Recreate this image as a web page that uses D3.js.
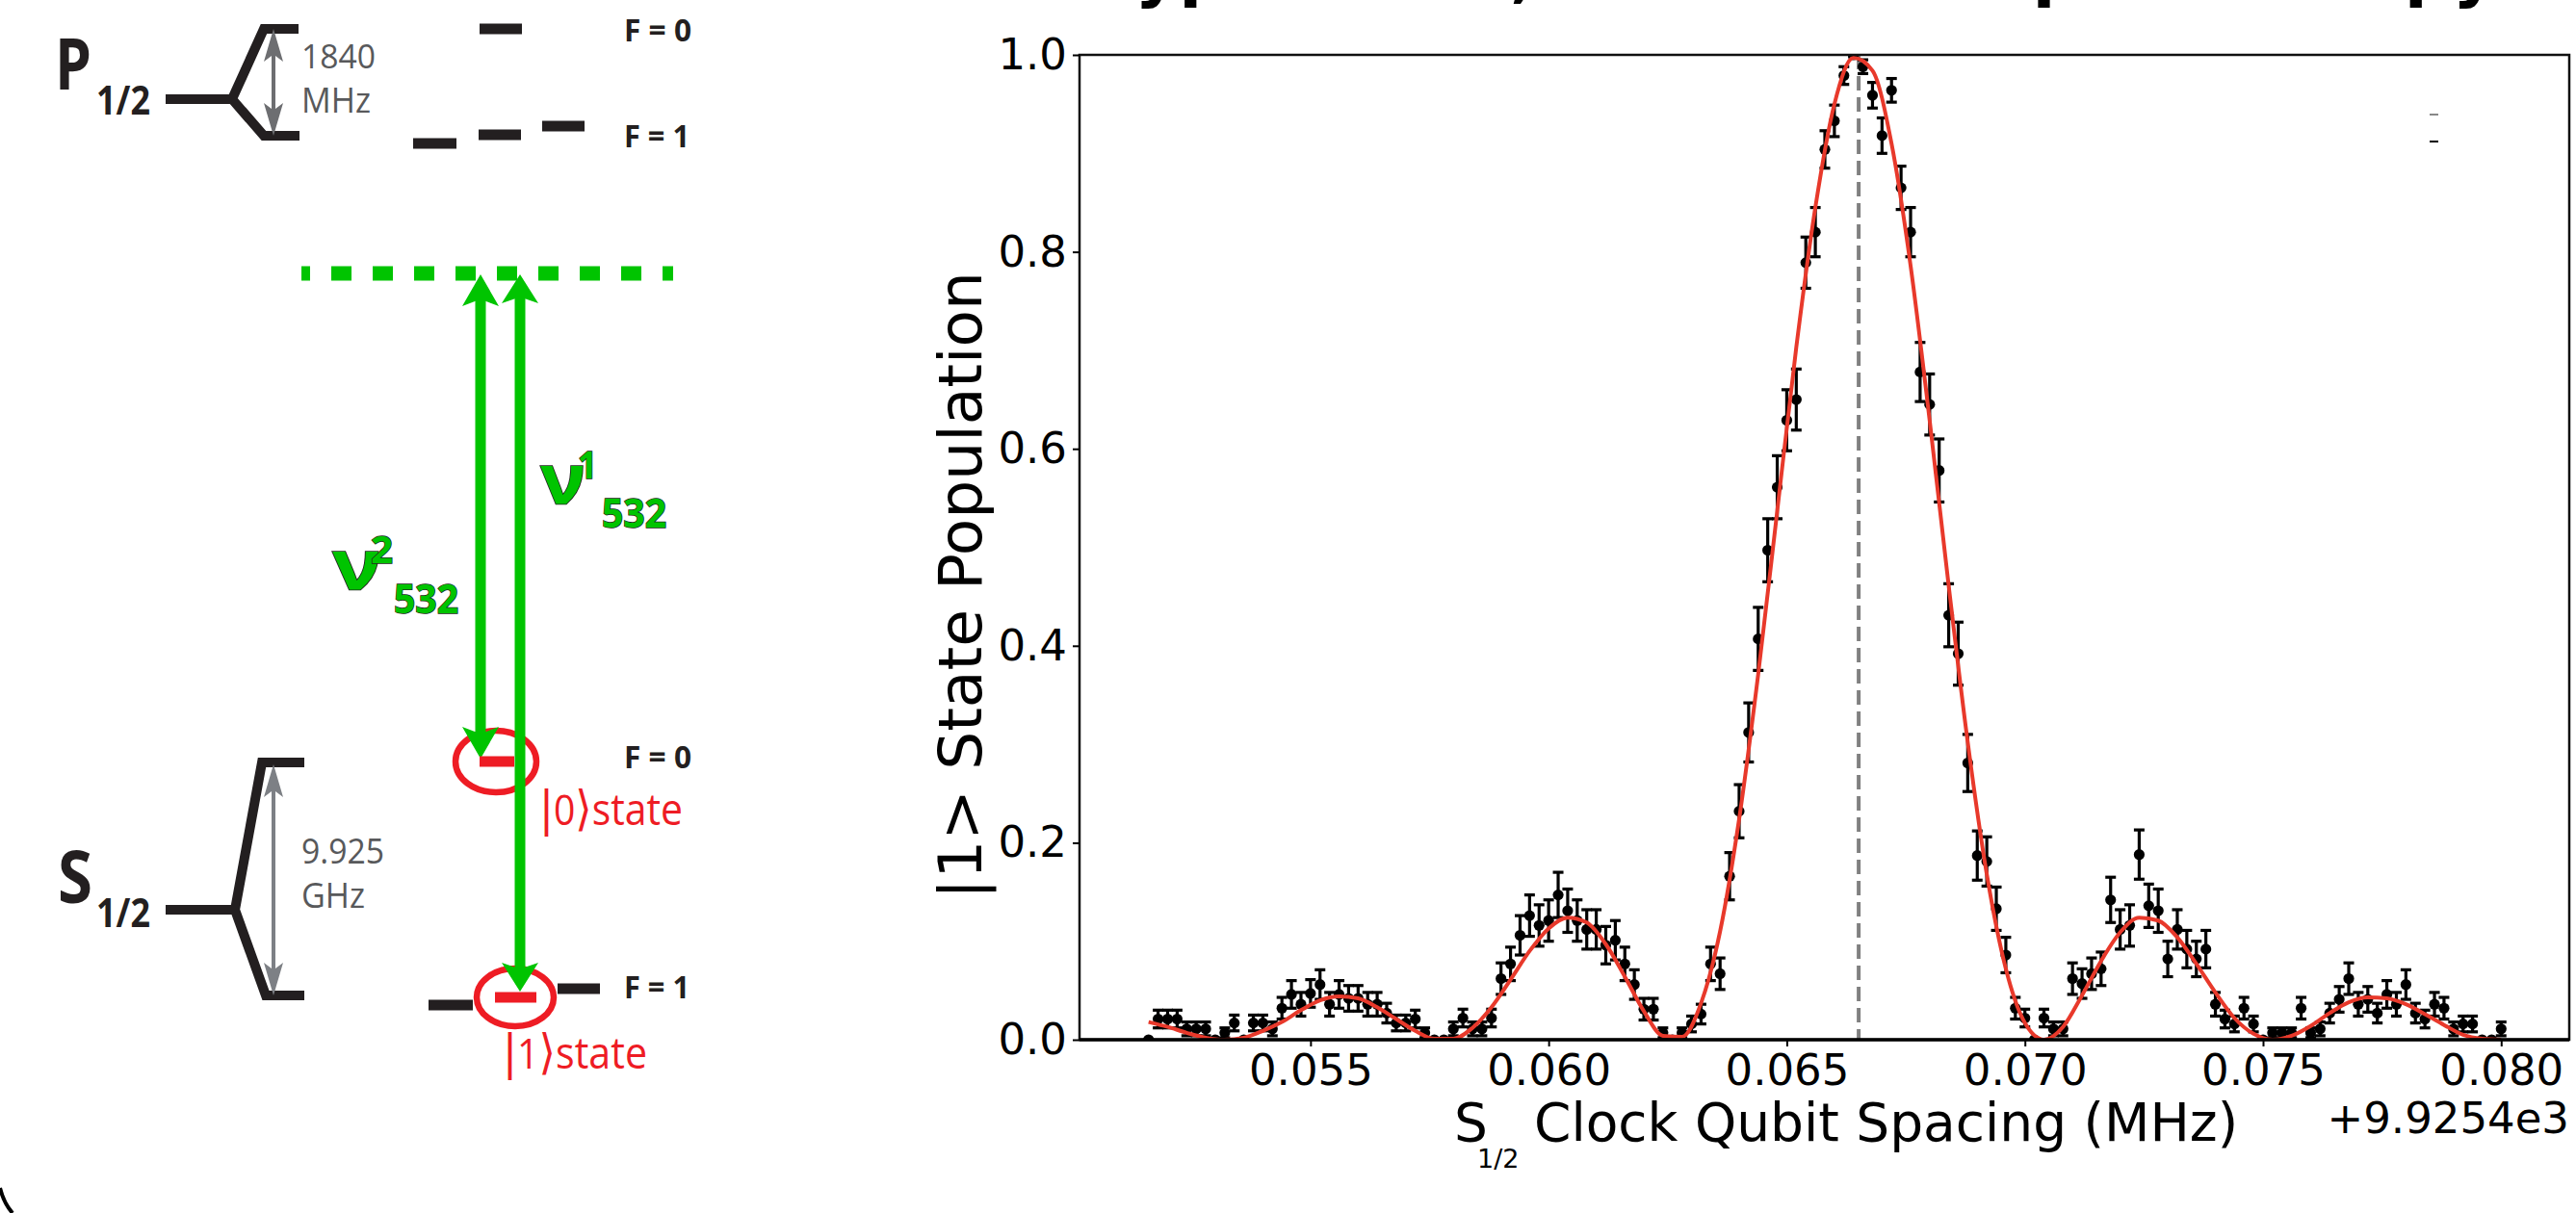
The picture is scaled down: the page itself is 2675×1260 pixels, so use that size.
<!DOCTYPE html>
<html><head><meta charset="utf-8">
<script src="https://cdn.jsdelivr.net/npm/d3@7"></script>
<style>html,body{margin:0;padding:0;background:#fff;} svg{display:block;}</style>
</head><body>
<svg id="c" width="2675" height="1260"></svg>
<script>
// ---------- data ----------
const freqOffsets = [
0.0516,0.0518,0.0520,0.0522,0.0524,0.0526,0.0528,0.0530,0.0532,0.0534,
0.0536,0.0538,0.0540,0.0542,0.0544,0.0546,0.0548,0.0550,0.0552,0.0554,
0.0556,0.0558,0.0560,0.0562,0.0564,0.0566,0.0568,0.0570,0.0572,0.0574,
0.0576,0.0578,0.0580,0.0582,0.0584,0.0586,0.0588,0.0590,0.0592,0.0594,
0.0596,0.0598,0.0600,0.0602,0.0604,0.0606,0.0608,0.0610,0.0612,0.0614,
0.0616,0.0618,0.0620,0.0622,0.0624,0.0626,0.0628,0.0630,0.0632,0.0634,
0.0636,0.0638,0.0640,0.0642,0.0644,0.0646,0.0648,0.0650,0.0652,0.0654,
0.0656,0.0658,0.0660,0.0662,0.0664,0.0666,0.0668,0.0670,0.0672,0.0674,
0.0676,0.0678,0.0680,0.0682,0.0684,0.0686,0.0688,0.0690,0.0692,0.0694,
0.0696,0.0698,0.0700,0.0702,0.0704,0.0706,0.0708,0.0710,0.0712,0.0714,
0.0716,0.0718,0.0720,0.0722,0.0724,0.0726,0.0728,0.0730,0.0732,0.0734,
0.0736,0.0738,0.0740,0.0742,0.0744,0.0746,0.0748,0.0750,0.0752,0.0754,
0.0756,0.0758,0.0760,0.0762,0.0764,0.0766,0.0768,0.0770,0.0772,0.0774,
0.0776,0.0778,0.0780,0.0782,0.0784,0.0786,0.0788,0.0790,0.0792,0.0794,
0.0796,0.0798,0.0800];
const population = [
0,0.021,0.021,0.021,0.011,0.011,0.011,0,0.007,0.017,
0,0.017,0.017,0.011,0.032,0.046,0.036,0.047,0.056,0.036,
0.046,0.042,0.042,0.036,0.036,0.027,0.017,0.017,0.021,0.007,
0,0,0.011,0.022,0.011,0.011,0.022,0.062,0.077,0.106,
0.126,0.116,0.121,0.147,0.131,0.121,0.112,0.112,0.096,0.101,
0.077,0.056,0.031,0.031,0.007,0,0.007,0.016,0.026,0.077,
0.067,0.166,0.232,0.312,0.407,0.497,0.561,0.629,0.650,0.789,
0.820,0.904,0.933,0.979,1.000,0.988,0.959,0.918,0.964,0.865,
0.820,0.678,0.645,0.578,0.431,0.392,0.281,0.187,0.181,0.133,
0.086,0.032,0.022,0,0.022,0.011,0.011,0.062,0.057,0.067,
0.072,0.142,0.112,0.116,0.188,0.136,0.131,0.082,0.112,0.092,
0.082,0.092,0.036,0.021,0.016,0.032,0.016,0,0.007,0.007,
0.007,0.032,0.007,0.011,0.027,0.041,0.062,0.036,0.041,0.027,
0.046,0.036,0.056,0.027,0.021,0.036,0.032,0.011,0.016,0.016,
0,0,0.011];
const populationErr = [
0,0.009,0.009,0.009,0.007,0.007,0.007,0,0.005,0.008,
0,0.008,0.008,0.007,0.011,0.014,0.012,0.014,0.015,0.012,
0.014,0.013,0.013,0.012,0.012,0.010,0.008,0.008,0.009,0.005,
0,0,0.007,0.009,0.007,0.007,0.009,0.016,0.017,0.020,
0.021,0.021,0.021,0.023,0.022,0.021,0.020,0.020,0.019,0.020,
0.017,0.015,0.011,0.011,0.005,0,0.005,0.008,0.010,0.017,
0.016,0.024,0.027,0.030,0.032,0.032,0.032,0.031,0.031,0.026,
0.025,0.019,0.016,0.009,0.002,0.007,0.013,0.018,0.012,0.022,
0.025,0.030,0.031,0.032,0.032,0.032,0.029,0.025,0.025,0.022,
0.018,0.011,0.009,0,0.009,0.007,0.007,0.016,0.015,0.016,
0.017,0.023,0.020,0.021,0.025,0.022,0.022,0.018,0.020,0.019,
0.018,0.019,0.012,0.009,0.008,0.011,0.008,0,0.005,0.005,
0.005,0.011,0.005,0.007,0.010,0.013,0.016,0.012,0.013,0.010,
0.014,0.012,0.015,0.010,0.009,0.012,0.011,0.007,0.008,0.008,
0,0,0.007];
const fitFreqOffsets = [
0.0516,0.0520,0.0524,0.0528,0.0532,0.0536,0.0540,0.0544,0.0548,0.0552,
0.0556,0.0560,0.0564,0.0568,0.0572,0.0576,0.0580,0.0584,0.0588,0.0592,
0.0596,0.0600,0.0604,0.0608,0.0612,0.0616,0.0620,0.0624,0.0628,0.0632,
0.0636,0.0640,0.0644,0.0648,0.0652,0.0656,0.0660,0.0664,0.0668,0.0672,
0.0676,0.0680,0.0684,0.0688,0.0692,0.0696,0.0700,0.0704,0.0708,0.0712,
0.0716,0.0720,0.0724,0.0728,0.0732,0.0736,0.0740,0.0744,0.0748,0.0752,
0.0756,0.0760,0.0764,0.0768,0.0772,0.0776,0.0780,0.0784,0.0788,0.0792,
0.0796,0.0800];
const fitPopulation = [
0.018,0.013,0.007,0.002,0.000,0.002,0.009,0.018,0.030,0.040,
0.044,0.042,0.033,0.021,0.009,0.001,0.001,0.012,0.033,0.061,
0.090,0.113,0.124,0.119,0.097,0.064,0.029,0.004,0.003,0.037,
0.110,0.224,0.371,0.537,0.703,0.845,0.950,0.997,0.984,0.910,
0.786,0.629,0.461,0.302,0.168,0.072,0.017,0.000,0.013,0.045,
0.080,0.109,0.124,0.121,0.104,0.077,0.048,0.022,0.006,0.000,
0.004,0.014,0.027,0.038,0.043,0.042,0.036,0.026,0.015,0.005,
0.001,0.000];
const centerFreqOffset = 0.06651;
const xTickValues = [0.055,0.060,0.065,0.070,0.075,0.080];
const xTickLabels = ["0.055","0.060","0.065","0.070","0.075","0.080"];
const yTickValues = [0,0.2,0.4,0.6,0.8,1.0];
const yTickLabels = ["0.0","0.2","0.4","0.6","0.8","1.0"];
const offsetLabel = "+9.9254e3";
const yAxisTitle = "|1> State Population";
const xAxisTitleMain = "Clock Qubit Spacing (MHz)";

// ---------- setup ----------
const svg = d3.select("#c");
svg.append("rect").attr("width",2675).attr("height",1260).attr("fill","#fff");
const BLK = "#231f20", GRN = "#00c400", RED = "#ee1c24";
const diagFont = "'Open Sans', 'Liberation Sans', sans-serif";
const chartFont = "'DejaVu Sans', sans-serif";

// ---------- chart ----------
const L = 1121, R = 2668, T = 57, B = 1080;
const x = d3.scaleLinear().domain([0.05015, 0.08143]).range([L, R]);
const y = d3.scaleLinear().domain([0, 1]).range([B, T]);

svg.append("defs").append("clipPath").attr("id","plotclip")
  .append("rect").attr("x",L).attr("y",T).attr("width",R-L).attr("height",B-T);

const plot = svg.append("g").attr("clip-path","url(#plotclip)");

// dashed center line
plot.append("line")
  .attr("x1",x(centerFreqOffset)).attr("x2",x(centerFreqOffset))
  .attr("y1",T).attr("y2",B)
  .attr("stroke","#808080").attr("stroke-width",4).attr("stroke-dasharray","15,7");

const pts = freqOffsets.map((f,i)=>({f, p:population[i], e:populationErr[i]}));
const eb = plot.append("g").attr("stroke","#000").attr("stroke-width",3.2);
pts.forEach(d=>{
  const cx = x(d.f), y0 = y(d.p - d.e), y1 = y(d.p + d.e);
  eb.append("line").attr("x1",cx).attr("x2",cx).attr("y1",y0).attr("y2",y1);
  eb.append("line").attr("x1",cx-5.5).attr("x2",cx+5.5).attr("y1",y0).attr("y2",y0);
  eb.append("line").attr("x1",cx-5.5).attr("x2",cx+5.5).attr("y1",y1).attr("y2",y1);
});
plot.append("g").selectAll("circle").data(pts).join("circle")
  .attr("cx",d=>x(d.f)).attr("cy",d=>y(d.p)).attr("r",5.6).attr("fill","#000");

const fitLine = d3.line().x(d=>x(d[0])).y(d=>y(d[1])).curve(d3.curveMonotoneX);
plot.append("path").datum(fitFreqOffsets.map((f,i)=>[f, fitPopulation[i]]))
  .attr("d",fitLine).attr("fill","none").attr("stroke","#e8392b").attr("stroke-width",4);

// spines
svg.append("rect").attr("x",L).attr("y",T).attr("width",R-L).attr("height",B-T)
  .attr("fill","none").attr("stroke","#111").attr("stroke-width",2.5);
svg.append("line").attr("x1",L).attr("x2",R).attr("y1",B).attr("y2",B)
  .attr("stroke","#000").attr("stroke-width",3.5);

// axes
const xa = svg.append("g").attr("transform",`translate(0,${B})`)
  .call(d3.axisBottom(x).tickValues(xTickValues).tickFormat((d,i)=>xTickLabels[i])
        .tickSize(7).tickPadding(8).tickSizeOuter(0));
const ya = svg.append("g").attr("transform",`translate(${L},0)`)
  .call(d3.axisLeft(y).tickValues(yTickValues).tickFormat((d,i)=>yTickLabels[i])
        .tickSize(7).tickPadding(6).tickSizeOuter(0));
[xa,ya].forEach(a=>{
  a.select(".domain").remove();
  a.selectAll("line").attr("stroke","#000").attr("stroke-width",2);
  a.selectAll("text").attr("font-family",chartFont).attr("font-size",45).attr("fill","#000");
});

// offset text
svg.append("text").attr("x",R).attr("y",1177).attr("text-anchor","end")
  .attr("font-family",chartFont).attr("font-size",45).text(offsetLabel);

// x axis title
const xt = svg.append("g").attr("font-family",chartFont).attr("fill","#000");
xt.append("text").attr("x",1510).attr("y",1185).attr("font-size",55).text("S");
xt.append("text").attr("x",1534).attr("y",1213).attr("font-size",27).text("1/2");
xt.append("text").attr("x",1593).attr("y",1185).attr("font-size",55).text(xAxisTitleMain);

// y axis title
svg.append("text").attr("transform","translate(1019,608) rotate(-90)")
  .attr("text-anchor","middle").attr("font-family",chartFont).attr("font-size",63)
  .text(yAxisTitle);

// tiny legend handles
svg.append("line").attr("x1",2523).attr("x2",2532).attr("y1",119).attr("y2",119).attr("stroke","#888").attr("stroke-width",2);
svg.append("line").attr("x1",2523).attr("x2",2532).attr("y1",147).attr("y2",147).attr("stroke","#000").attr("stroke-width",2);

// title, cut off by the top edge as in the reference (only descenders visible)
const tt = svg.append("g").attr("font-family",chartFont).attr("font-weight","bold").attr("font-size",70).attr("fill","#000");
tt.append("text").attr("x",1120).attr("y",-6).text("Hyperfine");
tt.append("text").attr("x",1568).attr("y",-6).text(",");
tt.append("text").attr("x",1640).attr("y",-6).text("Microwave");
tt.append("text").attr("x",2060).attr("y",-6).text("Spectroscopy");

// corner arc
svg.append("path").attr("d","M0,1234 Q4,1250 13,1260").attr("fill","none").attr("stroke","#000").attr("stroke-width",4);

// ---------- level diagram ----------
const dg = svg.append("g");
dg.append("path").attr("d","M172,103 L241,103 M310,30 L274,30 L241,103 L274,141 L311,141")
  .attr("fill","none").attr("stroke",BLK).attr("stroke-width",10).attr("stroke-linejoin","miter");
dg.append("path").attr("d","M172,945 L244,945 M316,792 L272,792 L244,945 L276,1034 L316,1034")
  .attr("fill","none").attr("stroke",BLK).attr("stroke-width",10).attr("stroke-linejoin","miter");

function dblArrow(g, xx, y1, y2, color, w, hw, hl){
  g.append("line").attr("x1",xx).attr("x2",xx).attr("y1",y1+hl*0.7).attr("y2",y2-hl*0.7)
    .attr("stroke",color).attr("stroke-width",w);
  g.append("path").attr("d",`M${xx},${y1} L${xx-hw},${y1+hl} L${xx},${y1+hl*0.78} L${xx+hw},${y1+hl} Z`).attr("fill",color);
  g.append("path").attr("d",`M${xx},${y2} L${xx-hw},${y2-hl} L${xx},${y2-hl*0.78} L${xx+hw},${y2-hl} Z`).attr("fill",color);
}
dblArrow(dg, 284, 30, 141, "#6d6e71", 4, 10, 34);
dblArrow(dg, 284, 794, 1034, "#7d8085", 4, 10, 34);

const bar = (x1,x2,yy,c)=>dg.append("line").attr("x1",x1).attr("x2",x2).attr("y1",yy).attr("y2",yy).attr("stroke",c).attr("stroke-width",11);
bar(498,542,30,BLK);
bar(429,474,149,BLK); bar(497,541,140,BLK); bar(563,607,131,BLK);

dg.append("line").attr("x1",313).attr("x2",699).attr("y1",284).attr("y2",284)
  .attr("stroke",GRN).attr("stroke-width",15).attr("stroke-dasharray","21,22").attr("stroke-dashoffset",12);

dg.append("ellipse").attr("cx",515).attr("cy",791).attr("rx",42).attr("ry",32).attr("fill","none").attr("stroke",RED).attr("stroke-width",6.5);
dg.append("ellipse").attr("cx",535).attr("cy",1036).attr("rx",40).attr("ry",30).attr("fill","none").attr("stroke",RED).attr("stroke-width",6.5);

dblArrow(dg, 499, 285, 788, GRN, 11, 19, 33);
dblArrow(dg, 540, 285, 1030, GRN, 11, 19, 30);

bar(498,534,791,RED);
bar(445,491,1044,BLK); bar(514,557,1036,RED); bar(579,623,1027,BLK);

function lab(txt, xx, yy, size, opts={}){
  const t = dg.append("text").attr("x",xx).attr("y",yy).attr("font-family",opts.family||diagFont)
    .attr("font-size",size).attr("font-weight",opts.weight||"bold").attr("fill",opts.fill||BLK).text(txt);
  if(opts.len) t.attr("textLength",opts.len).attr("lengthAdjust","spacingAndGlyphs");
  if(opts.stroke) t.attr("stroke",opts.stroke).attr("stroke-width",opts.sw||1.5).attr("paint-order","stroke");
  return t;
}
lab("P",57,93,74,{len:38});
lab("1/2",100,119,41,{len:56});
lab("S",60,938,76,{len:36});
lab("1/2",100,963,41,{len:56});
const GT = "#58595b";
lab("1840",313,71,34,{weight:"normal",fill:GT,len:77});
lab("MHz",313,117,36,{weight:"normal",fill:GT,len:72});
lab("9.925",313,897,36,{weight:"normal",fill:GT,len:86});
lab("GHz",313,943,36,{weight:"normal",fill:GT,len:66});
lab("F = 0",648,43,32,{len:70});
lab("F = 1",648,153,32,{len:68});
lab("F = 0",648,798,32,{len:70});
lab("F = 1",648,1037,32,{len:68});
const nuOpts = {fill:GRN, stroke:BLK, sw:1.5};
lab("ν",561,523,72,Object.assign({len:47},nuOpts));
lab("1",600,497,40,Object.assign({len:20},nuOpts));
lab("532",625,548,42,Object.assign({len:67},nuOpts));
lab("ν",345,612,72,Object.assign({len:51},nuOpts));
lab("2",385,585,40,Object.assign({len:23},nuOpts));
lab("532",409,637,42,Object.assign({len:67},nuOpts));
function ket(digit, xx, yy, len){
  const t = dg.append("text").attr("x",xx).attr("y",yy).attr("fill",RED)
    .attr("textLength",len).attr("lengthAdjust","spacingAndGlyphs");
  t.append("tspan").attr("font-family","'DejaVu Sans', sans-serif").attr("font-weight","normal").attr("font-size",50).text("|");
  t.append("tspan").attr("font-family",diagFont).attr("font-size",44).text(digit);
  t.append("tspan").attr("font-family","'DejaVu Sans', sans-serif").attr("font-size",50).text("⟩");
  t.append("tspan").attr("font-family",diagFont).attr("font-size",46).text("state");
}
ket("0",560,857,149);
ket("1",522,1110,150);
</script>
</body></html>
